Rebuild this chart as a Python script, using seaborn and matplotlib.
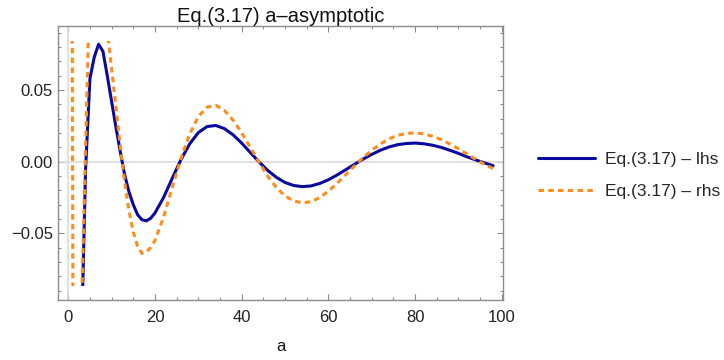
import numpy as np
import pandas as pd
import matplotlib
matplotlib.use('Agg')
import matplotlib.pyplot as plt
import seaborn as sns
from matplotlib.patches import Rectangle
from matplotlib.ticker import MultipleLocator, FuncFormatter

# lhs samples (values below -0.086 get clipped like in the original plot)
a_lhs = [3, 4, 5, 6, 7, 8, 9, 10, 11, 12, 13, 14, 15, 16, 17, 18, 19, 20,
         22, 24, 26, 28, 30, 32, 34, 36, 38, 40, 42, 44, 46, 48, 50, 52, 54,
         56, 58, 60, 62, 64, 66, 68, 70, 72, 74, 76, 78, 80, 82, 84, 86, 88,
         90, 92, 94, 96, 98]
lhs = [-0.130, -0.005, 0.058, 0.073, 0.082, 0.077, 0.060, 0.042, 0.024, 0.007,
       -0.009, -0.021, -0.030, -0.037, -0.0405, -0.0413, -0.0395, -0.0358,
       -0.0249, -0.0115, 0.0015, 0.0124, 0.0203, 0.0245, 0.0253, 0.0231,
       0.0188, 0.0130, 0.0064, -0.0001, -0.0061, -0.0109, -0.0145, -0.0166,
       -0.0174, -0.0169, -0.0152, -0.0126, -0.0093, -0.0056, -0.0019, 0.0018,
       0.0051, 0.0080, 0.0103, 0.0119, 0.0127, 0.0130, 0.0125, 0.0115, 0.0100,
       0.0080, 0.0058, 0.0034, 0.0012, -0.0008, -0.0028]

# rhs samples (blows up near a=1)
a_rhs = [0.5, 1.5, 2, 3, 4, 5, 6, 7, 8, 9, 10, 11, 12, 13, 14, 15, 16, 17, 18,
         19, 20, 22, 24, 26, 28, 30, 32, 34, 36, 38, 40, 42, 44, 46, 48, 50,
         52, 54, 56, 58, 60, 62, 64, 66, 68, 70, 72, 74, 76, 78, 80, 82, 84,
         86, 88, 90, 92, 94, 96, 98]
rhs = [0.60, -0.60, -0.25, -0.11, 0.01, 0.13, 0.16, 0.15, 0.12, 0.092, 0.065,
       0.038, 0.011, -0.014, -0.034, -0.049, -0.059, -0.064, -0.063, -0.060,
       -0.055, -0.0386, -0.0178, 0.0023, 0.0192, 0.0315, 0.0380, 0.0394,
       0.0358, 0.0291, 0.0202, 0.0099, -0.0002, -0.0100, -0.0180, -0.0239,
       -0.0274, -0.0287, -0.0279, -0.0251, -0.0206, -0.0151, -0.0091, -0.0030,
       0.0028, 0.0079, 0.0124, 0.0160, 0.0184, 0.0197, 0.0202, 0.0194, 0.0178,
       0.0155, 0.0124, 0.0090, 0.0053, 0.0016, -0.0018, -0.0048]

labels = ['Eq.(3.17) \u2013 lhs', 'Eq.(3.17) \u2013 rhs']
colors = ['#0a0aa0', '#ff8c1a']

sns.set_theme(style='ticks')
plt.rcParams['font.family'] = ['Liberation Sans', 'DejaVu Sans']

fig = plt.figure(figsize=(7.24, 3.6), dpi=100)
ax = fig.add_axes([0.0805, 0.1667, 0.6138, 0.7611])

# light axes through the origin
ax.axhline(0, color='#d9d9d9', lw=1.1, zorder=1)
ax.axvline(0, color='#d9d9d9', lw=1.1, zorder=1)

df_l = pd.DataFrame({'a': a_lhs, 'v': lhs})
df_r = pd.DataFrame({'a': a_rhs, 'v': rhs})
sns.lineplot(data=df_l, x='a', y='v', ax=ax, color=colors[0], lw=2.2,
             label=labels[0], sort=False, estimator=None)
sns.lineplot(data=df_r, x='a', y='v', ax=ax, color=colors[1], lw=2.2,
             linestyle=(0, (1.8, 1.4)), label=labels[1], sort=False, estimator=None)

# clip the curves to the plot range, like Mathematica does
clip = Rectangle((-10, -0.0865), 130, 0.171, transform=ax.transData)
for ln in ax.lines[2:]:
    ln.set_clip_path(clip)

ax.set_xlim(-2.3, 100.2)
ax.set_ylim(-0.0965, 0.0947)
ax.xaxis.set_major_locator(MultipleLocator(20))
ax.xaxis.set_minor_locator(MultipleLocator(5))
ax.yaxis.set_major_locator(MultipleLocator(0.05))
ax.yaxis.set_minor_locator(MultipleLocator(0.01))
ax.yaxis.set_major_formatter(
    FuncFormatter(lambda v, p: ('%.2f' % v).replace('-', '\u2212') if abs(v) > 1e-9 else '0.00'))

for s in ax.spines.values():
    s.set_color('#8c8c8c')
    s.set_linewidth(1.0)
ax.tick_params(which='both', direction='in', top=True, right=True,
               color='#8c8c8c', labelsize=12, labelcolor='#222222', width=0.8)
ax.tick_params(which='major', length=4.5)
ax.tick_params(axis='x', which='major', pad=7)
ax.tick_params(axis='y', which='major', pad=4)
ax.tick_params(which='minor', length=2.5)

ax.set_title('Eq.(3.17) a\u2013asymptotic', fontsize=14.5, color='#111111', pad=3)
ax.set_xlabel('a', fontsize=12, color='#111111', labelpad=10)
ax.set_ylabel('')

ax.legend(loc='center left', bbox_to_anchor=(1.079, 0.455), frameon=False,
          fontsize=12.5, handlelength=3.3, handletextpad=0.6, labelspacing=1.0,
          borderpad=0, borderaxespad=0)

fig.savefig('out.png', dpi=100)
